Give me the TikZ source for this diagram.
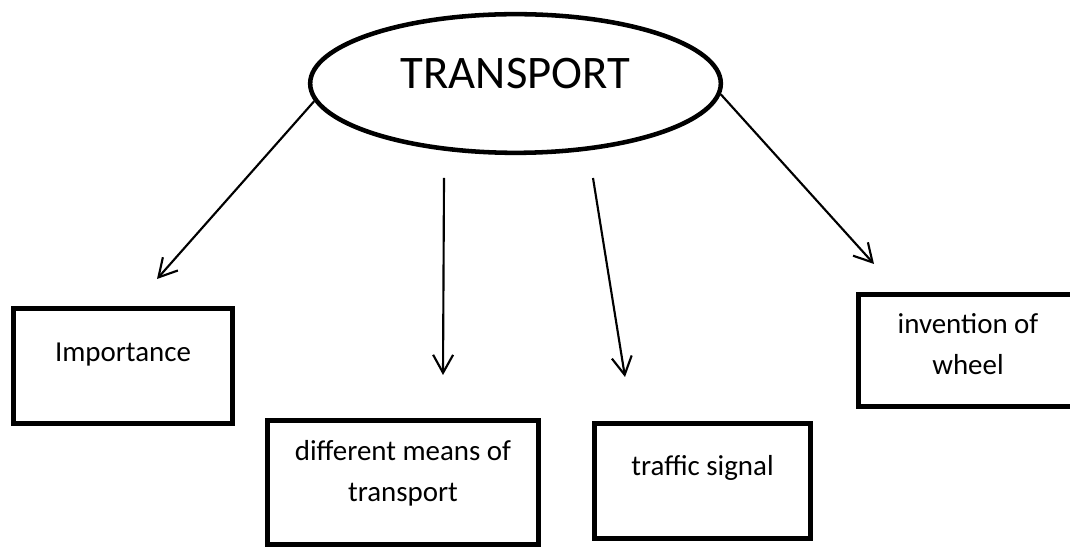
\documentclass[tikz,border=0pt]{standalone}
\usepackage{fontspec}
\setmainfont{Carlito}
\usepackage{tikz}
\usetikzlibrary{arrows.meta}
\usetikzlibrary{shapes.geometric}

\begin{document}
\begin{tikzpicture}[x=0.75pt, y=-0.75pt, >={Straight Barb[length=13.5pt,width=15pt]},
        topic/.style={rectangle, draw, line width=4pt, align=center, inner sep=0pt, text height=15pt, font=\fontsize{21.7pt}{30.75pt}\selectfont},
        link/.style={->, line width=1.6pt}]
        \clip (0,0) rectangle (1070,548);
        \node[ellipse, draw, line width=3.4pt, minimum width=308pt, minimum height=104pt, text height=25pt, text depth=17.8pt, font=\fontsize{35pt}{42pt}\selectfont] (transport) at (515.5,83.5) {TRANSPORT};
        \node[topic, minimum width=164.25pt, minimum height=86.25pt, text depth=21.5pt] (importance) at (123,366) {Importance};
        \node[topic, minimum width=203.25pt, minimum height=93pt, text height=50pt, text depth=21.2pt] (means) at (403,482.5) {different means of\\transport};
        \node[topic, minimum width=162pt, minimum height=86.25pt, text depth=24pt] (signal) at (702.5,481) {traffic signal};
        \node[topic, minimum width=164.25pt, minimum height=84pt, text height=50pt, text depth=13.25pt] (wheel) at (968,350.5) {invention of\\wheel};
        % arrow ends
        \coordinate (meansfrom) at (444,178);
        \coordinate (signalfrom) at (593,178);
        \coordinate (importanceto) at (157,279);
        \coordinate (meansto) at (443,375);
        \coordinate (signalto) at (625,377);
        \coordinate (wheelto) at (874,264);
        \draw[link] (transport.185) -- (importanceto);
        \draw[link] (meansfrom) -- (meansto);
        \draw[link] (signalfrom) -- (signalto);
        \draw[link] (transport.357) -- (wheelto);
    \end{tikzpicture}
\end{document}
